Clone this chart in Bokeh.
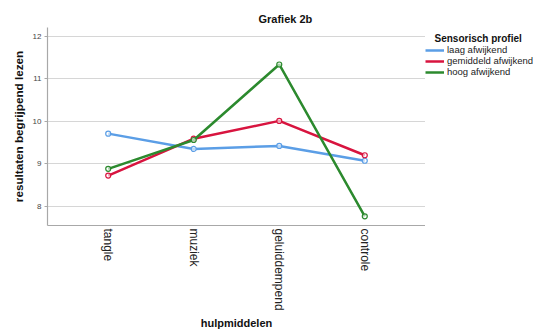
import math
from bokeh.plotting import figure
from bokeh.layouts import row
from bokeh.models import (FactorRange, Range1d, FixedTicker, Legend, LegendItem,
                          ColumnDataSource, Label)
from bokeh.embed import file_html
from bokeh.resources import INLINE

categories = ["tangle", "muziek", "geluiddempend", "controle"]
laag = [9.71, 9.35, 9.42, 9.07]
gemiddeld = [8.72, 9.59, 10.01, 9.20]
hoog = [8.88, 9.56, 11.34, 7.76]
series_names = ["laag afwijkend", "gemiddeld afwijkend", "hoog afwijkend"]
colors = ["#5b9ee6", "#d8143f", "#2c8a2e"]
y_ticks = [8, 9, 10, 11, 12]

FONT = "Liberation Sans"

p = figure(frame_width=378, frame_height=198, output_backend="svg",
           toolbar_location=None,
           x_range=FactorRange(factors=categories, range_padding=0.105),
           y_range=Range1d(7.544, 12.212),
           min_border_left=47, min_border_right=0,
           min_border_top=27, min_border_bottom=105)
p.outline_line_color = None
p.background_fill_color = "white"
p.border_fill_color = "white"

p.title.text = "Grafiek 2b"
p.title.text_font = FONT
p.title.text_font_style = "bold"
p.title.text_font_size = "11px"
p.title.text_color = "#111111"
p.title.align = "left"
p.title.offset = 211
p.title.standoff = 5

p.xgrid.grid_line_color = None
p.ygrid.grid_line_color = "#d6d6d6"
p.ygrid.grid_line_width = 1
p.yaxis.ticker = FixedTicker(ticks=y_ticks)

for ax in (p.xaxis, p.yaxis):
    ax.axis_line_color = "#a8a8a8"
    ax.axis_line_width = 1.2
    ax.minor_tick_line_color = None
    ax.minor_tick_out = 0
    ax.axis_label_text_font = FONT
    ax.axis_label_text_font_style = "bold"
    ax.axis_label_text_color = "#111111"

p.xaxis.major_tick_line_color = None
p.xaxis.major_tick_out = 0
p.xaxis.major_tick_in = 0
p.xaxis.major_label_orientation = -math.pi / 2
p.xaxis.major_label_text_font = FONT
p.xaxis.major_label_text_font_size = "12px"
p.xaxis.major_label_text_color = "#222222"
p.xaxis.major_label_standoff = 3
p.xaxis.axis_label = "hulpmiddelen"
p.xaxis.axis_label_text_font_size = "11px"
p.xaxis.axis_label_standoff = 3

p.yaxis.major_tick_line_color = "#a8a8a8"
p.yaxis.major_tick_out = 3
p.yaxis.major_tick_in = 0
p.yaxis.major_label_text_font = FONT
p.yaxis.major_label_text_font_size = "8px"
p.yaxis.major_label_text_color = "#444444"
p.yaxis.major_label_standoff = 3
p.yaxis.axis_label = "resultaten begrijpend lezen"
p.yaxis.axis_label_text_font_size = "11.7px"
p.yaxis.axis_label_standoff = 5

for name, vals, col in zip(series_names, [laag, gemiddeld, hoog], colors):
    src = ColumnDataSource(dict(x=categories, y=vals))
    p.line("x", "y", source=src, line_color=col, line_width=2.5)
    p.scatter("x", "y", source=src, size=5, line_color=col, line_width=1.2,
              fill_color="white", fill_alpha=0.6)

# legend panel: a second figure to the right; its frame is aligned with p's
q = figure(width=108, height=330, output_backend="svg", toolbar_location=None,
           x_range=Range1d(0, 108), y_range=Range1d(225, 27),
           min_border_left=0, min_border_right=0, min_border_bottom=0,
           min_border_top=0)
q.axis.visible = False
q.grid.visible = False
q.outline_line_color = None
q.background_fill_color = "white"
q.border_fill_color = "white"

nan = float("nan")
items = []
for name, col in zip(series_names, colors):
    r = q.line(x=[nan], y=[nan], line_color=col, line_width=2.5)
    items.append(LegendItem(label=name, renderers=[r]))

legend = Legend(items=items, location=(0, 147), padding=0, margin=0,
                spacing=0, glyph_width=19, glyph_height=10, label_height=10,
                label_standoff=3, label_text_font=FONT,
                label_text_font_size="9.5px", label_text_line_height=1.1,
                label_text_color="#222222",
                border_line_color=None, background_fill_alpha=0)
q.add_layout(legend, "center")
q.add_layout(Label(x=9, y=38, text="Sensorisch profiel", text_font=FONT,
                   text_font_style="bold", text_font_size="10px",
                   text_color="#111111", text_baseline="middle"))

layout = row(p, q)
open("out.html", "w").write(file_html(layout, INLINE))
